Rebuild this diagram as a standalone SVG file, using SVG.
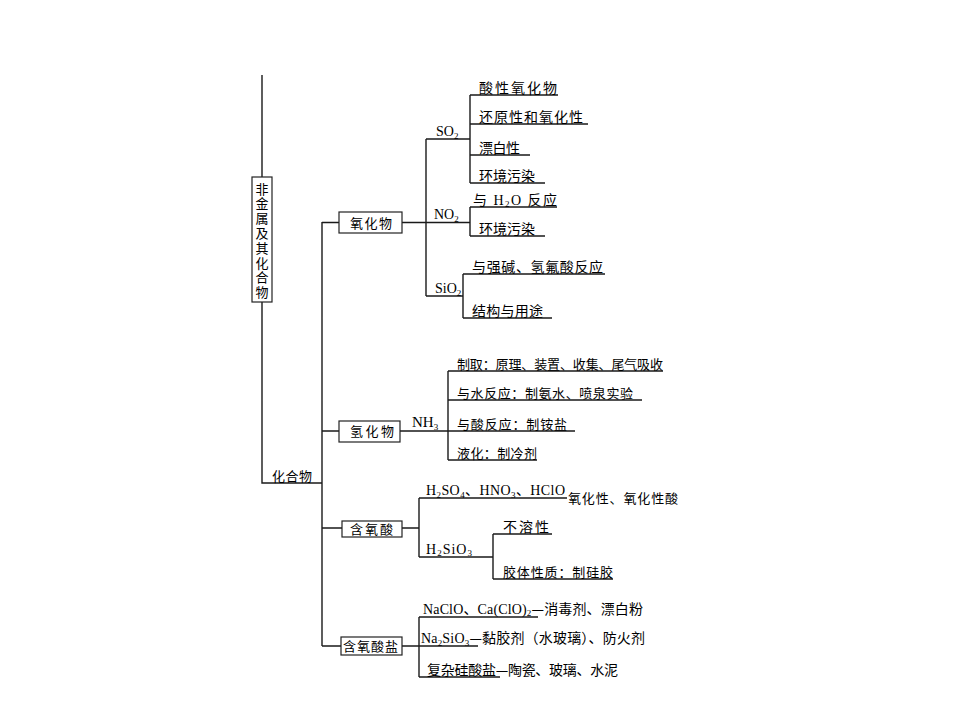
<svg xmlns="http://www.w3.org/2000/svg" width="960" height="720" viewBox="0 0 960 720">
<style>
.ln{stroke:#1a1a1a;stroke-width:1.4;fill:none}
.box{fill:#fff;stroke:#222;stroke-width:1.2}
text{font-family:"Liberation Serif","Noto Sans CJK SC",serif;fill:#000;font-size:13px}
.c{text-anchor:middle}
.sub{font-size:9px}
.b{font-size:14px}
.cj{font-family:"Noto Sans CJK SC",sans-serif}
</style>
<rect width="960" height="720" fill="#fff"/>
<g id="connectors">
<path class="ln" d="M262 75V177 M262 302V483H322 M322 222V646 M322 222.5H339 M402 222.5H426 M426 139V296 M426 139H470 M426 222.5H470 M426 296H463 M470 95V183 M470 95H558 M470 124H588 M470 155H530 M470 183H545 M470 207V236 M470 207H557 M470 236H545 M463 274V318 M463 274H605 M463 318H552 M322 431H339 M400 431H448 M448 371V460 M448 371H663 M448 400H642 M448 431H575 M448 460H537 M322 528H342 M402 528H419 M419 498V557 M419 498H567 M419 557H493 M493 534V579 M493 534H552 M493 579H613 M322 646H341 M402 646H478 M419 617V677 M419 617H538 M419 677H500"/>
</g>
<g id="root">
<rect class="box" x="252" y="177" width="20" height="125"/>
<text class="c" x="262" y="193.5"><tspan x="262">非</tspan><tspan x="262" dy="14.8">金</tspan><tspan x="262" dy="14.8">属</tspan><tspan x="262" dy="14.8">及</tspan><tspan x="262" dy="14.8">其</tspan><tspan x="262" dy="14.8">化</tspan><tspan x="262" dy="14.8">合</tspan><tspan x="262" dy="14.8">物</tspan></text>
</g>
<g id="compound"><text x="272" y="480.5" textLength="40">化合物</text></g>
<g id="oxide">
<rect class="box" x="339" y="212" width="63" height="21"/>
<text x="350" y="227.5" textLength="42">氧化物</text>
</g>
<g id="so2"><text x="436" y="136" class="b">SO<tspan class="sub" dy="2.5">2</tspan></text></g>
<g id="so2-1"><text x="479" y="92.5" textLength="78" class="b">酸性氧化物</text></g>
<g id="so2-2"><text x="479" y="121.5" textLength="104" class="b">还原性和氧化性</text></g>
<g id="so2-3"><text x="479" y="152.5" textLength="41" class="b">漂白性</text></g>
<g id="so2-4"><text x="479" y="180.5" textLength="56" class="b">环境污染</text></g>
<g id="no2"><text x="434" y="219" class="b">NO<tspan class="sub" dy="2.5">2</tspan></text></g>
<g id="no2-1"><text x="473" y="204.5" textLength="84" class="b">与 H<tspan class="sub" dy="2.5">2</tspan><tspan dy="-2.5">O 反应</tspan></text></g>
<g id="no2-2"><text x="479" y="233.5" textLength="56" class="b">环境污染</text></g>
<g id="sio2"><text x="435" y="293" class="b">SiO<tspan class="sub" dy="2.5">2</tspan></text></g>
<g id="sio2-1"><text x="472" y="271.5" textLength="131" class="b">与强碱、氢氟酸反应</text></g>
<g id="sio2-2"><text x="472" y="315.5" textLength="71" class="b">结构与用途</text></g>
<g id="hydride">
<rect class="box" x="339" y="421" width="61" height="21"/>
<text x="350" y="436" textLength="44">氢化物</text>
</g>
<g id="nh3"><text x="412" y="427" style="font-size:15px">NH<tspan class="sub" dy="2.5">3</tspan></text></g>
<g id="nh3-1"><text x="457" y="368.5" textLength="206">制取：原理、装置、收集、尾气吸收</text></g>
<g id="nh3-2"><text x="457" y="397.5" textLength="176">与水反应：制氨水、喷泉实验</text></g>
<g id="nh3-3"><text x="457" y="428.5" textLength="110">与酸反应：制铵盐</text></g>
<g id="nh3-4"><text x="457" y="457.5" textLength="80">液化：制冷剂</text></g>
<g id="oxyacid">
<rect class="box" x="342" y="521" width="60" height="16"/>
<text x="350" y="534" textLength="43">含氧酸</text>
</g>
<g id="acid-1"><text x="426" y="495" class="b" textLength="139">H<tspan class="sub" dy="2.5">2</tspan><tspan dy="-2.5">SO</tspan><tspan class="sub" dy="2.5">4</tspan><tspan dy="-2.5">、HNO</tspan><tspan class="sub" dy="2.5">3</tspan><tspan dy="-2.5">、HClO</tspan></text></g>
<g id="acid-1b"><text x="568" y="503" textLength="110">氧化性、氧化性酸</text></g>
<g id="h2sio3"><text x="426" y="553.5" class="b" textLength="46">H<tspan class="sub" dy="2.5">2</tspan><tspan dy="-2.5">SiO</tspan><tspan class="sub" dy="2.5">3</tspan></text></g>
<g id="h2sio3-1"><text x="503" y="531.5" class="b" textLength="46">不溶性</text></g>
<g id="h2sio3-2"><text x="503" y="576.5" textLength="110">胶体性质：制硅胶</text></g>
<g id="oxysalt">
<rect class="box" x="341" y="637" width="61" height="18"/>
<text x="343" y="651" textLength="55">含氧酸盐</text>
</g>
<g id="salt-1"><text x="423" y="613.5" class="b" textLength="220">NaClO、Ca(ClO)<tspan class="sub" dy="2.5">2</tspan><tspan dy="-2.5" class="cj">—</tspan>消毒剂、漂白粉</text></g>
<g id="salt-2"><text x="421" y="643" class="b" textLength="224">Na<tspan class="sub" dy="2.5">2</tspan><tspan dy="-2.5">SiO</tspan><tspan class="sub" dy="2.5">3</tspan><tspan dy="-2.5" class="cj">—</tspan>黏胶剂（水玻璃）、防火剂</text></g>
<g id="salt-3"><text x="427" y="674.5" class="b" textLength="191">复杂硅酸盐<tspan class="cj">—</tspan>陶瓷、玻璃、水泥</text></g>
</svg>
